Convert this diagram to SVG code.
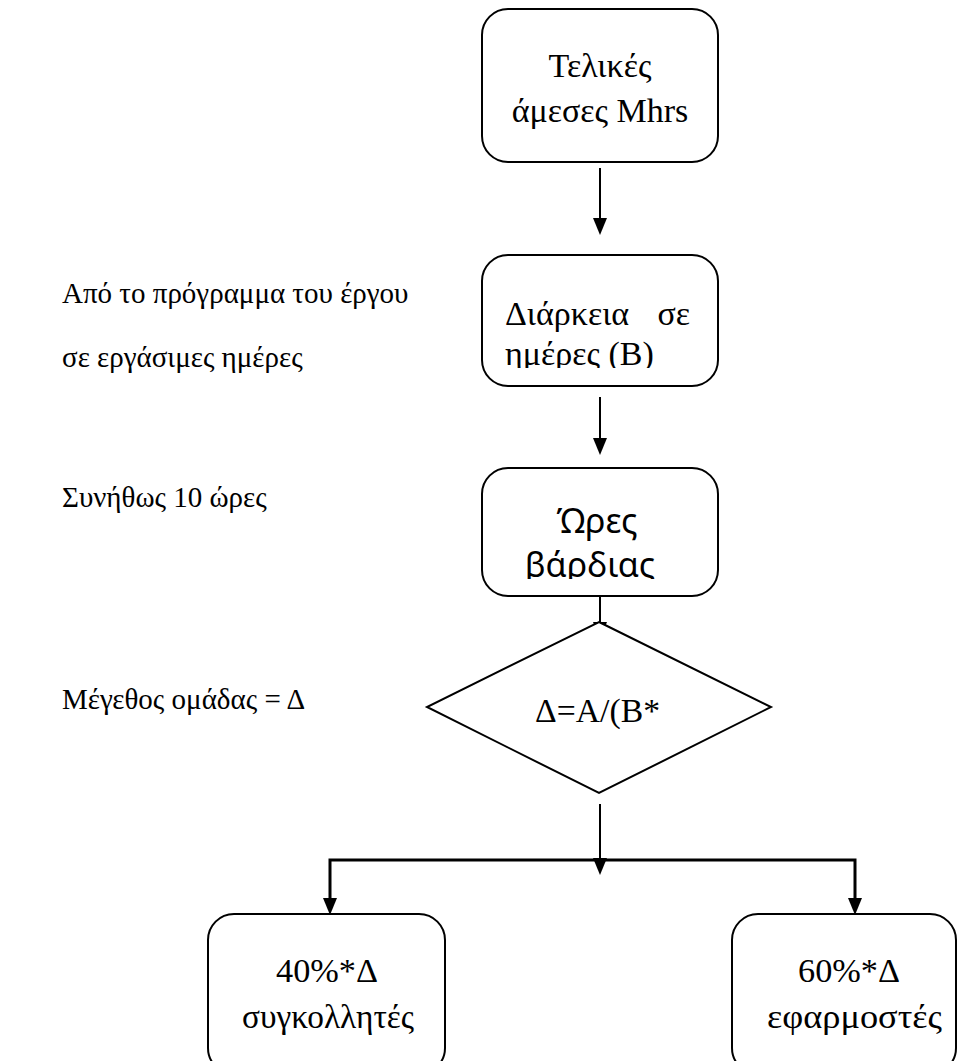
<svg xmlns="http://www.w3.org/2000/svg" width="957" height="1061" viewBox="0 0 957 1061">
  <style>
    .box { fill: #ffffff; stroke: #000000; stroke-width: 2; }
    .wire { fill: none; stroke: #000000; stroke-width: 2; }
    .bus { fill: none; stroke: #000000; stroke-width: 3; }
    .head { fill: #000000; stroke: none; }
    .t { font-family: "Liberation Serif", serif; font-size: 34px; fill: #000000; }
    .side { font-family: "Liberation Serif", serif; font-size: 29px; fill: #000000; }
    .alt { font-family: "Noto Sans", sans-serif; font-size: 34px; fill: #000000; }
  </style>
  <defs>
    <clipPath id="clip-days"><rect x="482" y="255" width="236" height="113"/></clipPath>
    <clipPath id="clip-shift"><rect x="482" y="468" width="236" height="111"/></clipPath>
  </defs>
  <rect width="957" height="1061" fill="#ffffff"/>

  <!-- connectors (drawn first so the diamond covers the hidden arrow tip) -->
  <g id="connectors">
    <line class="wire" x1="600" y1="168" x2="600" y2="220"/>
    <polygon class="head" points="593,218 607,218 600,235"/>
    <line class="wire" x1="600" y1="397" x2="600" y2="440"/>
    <polygon class="head" points="593,438 607,438 600,455"/>
    <line class="wire" x1="600" y1="596" x2="600" y2="624"/>
    <polygon class="head" points="593,622 607,622 600,639"/>
    <line class="wire" x1="600" y1="804" x2="600" y2="860"/>
    <polygon class="head" points="593,858 607,858 600,875"/>
    <polyline class="bus" points="330,900 330,860 855,860 855,900"/>
    <polygon class="head" points="323,898 337,898 330,915"/>
    <polygon class="head" points="848,898 862,898 855,915"/>
  </g>

  <!-- side notes -->
  <g id="notes">
    <text class="side" x="62" y="303">Από το πρόγραμμα του έργου</text>
    <text class="side" x="62" y="367">σε εργάσιμες ημέρες</text>
    <text class="side" x="62" y="507">Συνήθως 10 ώρες</text>
    <text class="side" x="62" y="709">Μέγεθος ομάδας = Δ</text>
  </g>

  <g id="node-mhrs">
    <rect class="box" x="482" y="9" width="236" height="153" rx="26"/>
    <text class="t" x="600" y="77" text-anchor="middle">Τελικές</text>
    <text class="t" x="600" y="122" text-anchor="middle">άμεσες Mhrs</text>
  </g>

  <g id="node-days">
    <rect class="box" x="482" y="255" width="236" height="131" rx="26"/>
    <g clip-path="url(#clip-days)">
      <text class="t" x="505" y="325">Διάρκεια</text>
      <text class="t" x="690" y="325" text-anchor="end">σε</text>
      <text class="t" x="505" y="365">ημέρες (B)</text>
    </g>
  </g>

  <g id="node-shift">
    <rect class="box" x="482" y="468" width="236" height="128" rx="26"/>
    <g clip-path="url(#clip-shift)">
      <text class="alt" x="597" y="533" text-anchor="middle">Ώρες</text>
      <text class="alt" x="590" y="577" text-anchor="middle">βάρδιας</text>
    </g>
  </g>

  <g id="node-crew">
    <polygon class="box" points="599,622 771,707 599,793 427,707"/>
    <text class="t" x="535" y="722" textLength="125" lengthAdjust="spacingAndGlyphs">Δ=A/(B*</text>
  </g>

  <g id="node-welders">
    <rect class="box" x="208" y="914" width="237" height="160" rx="26"/>
    <text class="t" x="276" y="982" textLength="102" lengthAdjust="spacingAndGlyphs">40%*Δ</text>
    <text class="t" x="242" y="1028" textLength="172" lengthAdjust="spacingAndGlyphs">συγκολλητές</text>
  </g>

  <g id="node-fitters">
    <rect class="box" x="732" y="914" width="224" height="160" rx="26"/>
    <text class="t" x="798" y="982" textLength="102" lengthAdjust="spacingAndGlyphs">60%*Δ</text>
    <text class="t" x="767" y="1028" textLength="175" lengthAdjust="spacingAndGlyphs">εφαρμοστές</text>
  </g>
</svg>
